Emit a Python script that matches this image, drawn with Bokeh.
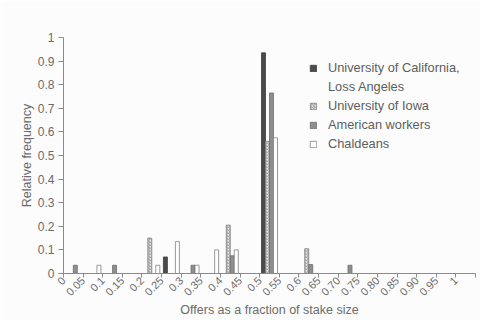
import math
from bokeh.plotting import figure
from bokeh.models import (ColumnDataSource, FixedTicker, Range1d, Legend, LegendItem)
from bokeh.transform import dodge
from bokeh.embed import file_html
from bokeh.resources import INLINE

# ---- data ----
bins = [round(k * 0.05, 2) for k in range(21)]
xtick_labels = ["0", "0.05", "0.1", "0.15", "0.2", "0.25", "0.3", "0.35", "0.4",
                "0.45", "0.5", "0.55", "0.6", "0.65", "0.70", "0.75", "0.80",
                "0.85", "0.90", "0.95", "1"]
ytick_values = [round(k * 0.1, 1) for k in range(11)]
ytick_labels = ["0", "0.1", "0.2", "0.3", "0.4", "0.5", "0.6", "0.7", "0.8", "0.9", "1"]

ucla      = [0, 0, 0, 0, 0, 0.07, 0, 0, 0, 0, 0.935, 0, 0, 0, 0, 0, 0, 0, 0, 0, 0]
iowa      = [0, 0, 0, 0, 0.15, 0, 0, 0, 0.205, 0, 0.56, 0, 0.105, 0, 0, 0, 0, 0, 0, 0, 0]
american  = [0.035, 0, 0.035, 0, 0, 0, 0.035, 0, 0.075, 0, 0.765, 0, 0.038, 0, 0.035, 0, 0, 0, 0, 0, 0]
chaldeans = [0, 0.035, 0, 0, 0.035, 0.135, 0.035, 0.10, 0.10, 0, 0.575, 0, 0, 0, 0, 0, 0, 0, 0, 0, 0]

series_names = ["University of California,", "University of Iowa", "American workers", "Chaldeans"]

FONT = "Liberation Sans"
TXT = "#6b6b6b"

p = figure(width=480, height=320, output_backend="svg", toolbar_location=None,
           x_range=Range1d(0, 1.05), y_range=Range1d(0, 1),
           min_border_left=63, min_border_right=5, min_border_top=37, min_border_bottom=47)
p.background_fill_color = "#fcfcfc"
p.border_fill_color = "#fcfcfc"
p.outline_line_color = None
p.grid.visible = False

bw = 0.0102
def src(vals):
    xs = [b + 0.025 for b, v in zip(bins, vals) if v > 0]
    ys = [v for v in vals if v > 0]
    return ColumnDataSource(dict(x=xs, top=ys))

r_ucla = p.vbar(x=dodge("x", -1.5 * bw), top="top", width=bw, source=src(ucla),
                fill_color="#4a4a4a", line_color="#3c3c3c", line_width=0.8)
r_iowa = p.vbar(x=dodge("x", -0.5 * bw), top="top", width=bw, source=src(iowa),
                fill_color="#e4e4e4", line_color="#808080", line_width=0.8,
                hatch_pattern="right_diagonal_line", hatch_color="#8a8a8a",
                hatch_scale=3, hatch_weight=0.8)
r_amer = p.vbar(x=dodge("x", 0.5 * bw), top="top", width=bw, source=src(american),
                fill_color="#8e8e8e", line_color="#6e6e6e", line_width=0.8)
r_chal = p.vbar(x=dodge("x", 1.5 * bw), top="top", width=bw, source=src(chaldeans),
                fill_color="#ffffff", line_color="#808080", line_width=0.8)
r_dummy = p.vbar(x=[], top=[], width=bw, fill_alpha=0, line_alpha=0)

# axes
xa = p.xaxis[0]
xa.ticker = FixedTicker(ticks=bins + [1.05])
xa.major_label_overrides = {b: l for b, l in zip(bins, xtick_labels)}
xa.major_label_overrides[1.05] = ""
xa.major_label_orientation = math.pi / 4
xa.axis_label = "Offers as a fraction of stake size"
xa.minor_tick_line_color = None
xa.major_tick_in = 0
xa.major_tick_out = 4
xa.major_label_standoff = 1
xa.axis_label_standoff = 1
xa.major_label_text_font_size = "11px"

ya = p.yaxis[0]
ya.ticker = FixedTicker(ticks=ytick_values)
ya.major_label_overrides = {v: l for v, l in zip(ytick_values, ytick_labels)}
ya.axis_label = "Relative frequency"
ya.minor_tick_line_color = None
ya.major_tick_in = 0
ya.major_tick_out = 5
ya.major_label_standoff = 4
ya.axis_label_standoff = 1
ya.major_label_text_font_size = "12px"

for ax in (xa, ya):
    ax.axis_line_color = "#8a8a8a"
    ax.major_tick_line_color = "#8a8a8a"
    ax.major_label_text_font = FONT
    ax.major_label_text_color = TXT
    ax.axis_label_text_font = FONT
    ax.axis_label_text_color = TXT
    ax.axis_label_text_font_size = "12.5px"
    ax.axis_label_text_font_style = "normal"

legend = Legend(items=[
    LegendItem(label=series_names[0], renderers=[r_ucla]),
    LegendItem(label="Loss Angeles", renderers=[r_dummy]),
    LegendItem(label=series_names[1], renderers=[r_iowa]),
    LegendItem(label=series_names[2], renderers=[r_amer]),
    LegendItem(label=series_names[3], renderers=[r_chal]),
], location=(246, 122), padding=0, margin=0, spacing=4,
   glyph_width=8, glyph_height=8, label_height=15, label_standoff=11,
   border_line_color=None, background_fill_alpha=0,
   label_text_font=FONT, label_text_color="#5e5e5e", label_text_font_size="12.8px")
p.add_layout(legend, "center")

open("out.html", "w").write(file_html(p, INLINE))
